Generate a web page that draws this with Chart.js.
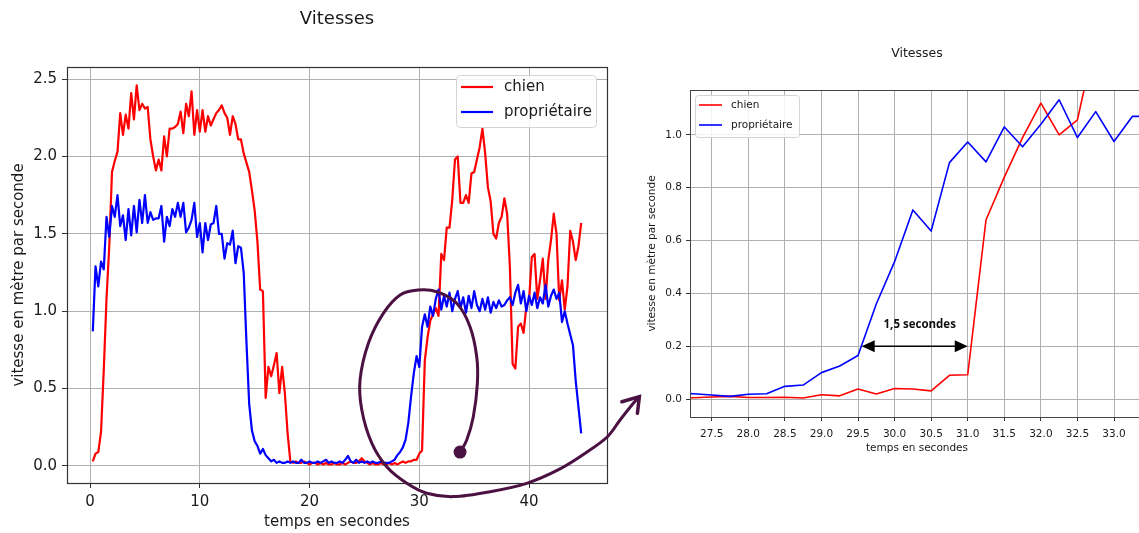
<!DOCTYPE html>
<html lang="fr">
<head>
<meta charset="utf-8">
<title>Vitesses</title>
<script src="https://cdn.jsdelivr.net/npm/chart.js@4.4.1/dist/chart.umd.min.js"></script>
<style>
  html, body { margin: 0; padding: 0; background: #fff; overflow: hidden; }
  #wrap { position: relative; width: 1139px; height: 533px; overflow: hidden; background: #fff; }
  #full  { position: absolute; left: 0;     top: 0; width: 640px; height: 533px; }
  #zoom  { position: absolute; left: 635px; top: 0; width: 520px; height: 533px; }
  #marks { position: absolute; left: 0;     top: 0; width: 1139px; height: 533px; pointer-events: none; }
</style>
</head>
<body>
<div id="wrap">
  <canvas id="full" width="640" height="533"></canvas>
  <canvas id="zoom" width="520" height="533"></canvas>
  <canvas id="marks" width="1139" height="533"></canvas>
</div>
<script>
// ---- mesures (vitesse en m/s, un échantillon toutes les 0,25 s) ----
const sampleStep = 0.25;
const fullT0 = 0.25;   // premier instant de l'enregistrement complet
const zoomT0 = 27.0;   // premier instant de l'extrait agrandi

const chien = [
  0.03, 0.08, 0.09, 0.22, 0.62, 1.08, 1.42, 1.9, 1.97, 2.03,
  2.28, 2.14, 2.27, 2.18, 2.41, 2.24, 2.46, 2.3, 2.34, 2.31,
  2.32, 2.11, 2.0, 1.91, 1.98, 1.91, 2.13, 2.0, 2.18, 2.18,
  2.19, 2.21, 2.29, 2.15, 2.34, 2.26, 2.42, 2.14, 2.3, 2.16,
  2.3, 2.16, 2.26, 2.2, 2.24, 2.28, 2.3, 2.33, 2.28, 2.25,
  2.14, 2.26, 2.21, 2.11, 2.11, 2.02, 1.96, 1.9, 1.78, 1.65,
  1.45, 1.14, 1.13, 0.44, 0.64, 0.58, 0.65, 0.73, 0.47, 0.64,
  0.47, 0.21, 0.03, 0.02, 0.03, 0.02, 0.02, 0.03, 0.02, 0.01,
  0.02, 0.02, 0.01, 0.02, 0.01, 0.02, 0.01, 0.01, 0.02, 0.01,
  0.01, 0.02, 0.01, 0.02, 0.03, 0.02, 0.02, 0.03, 0.05, 0.03,
  0.02, 0.01, 0.02, 0.01, 0.01, 0.02, 0.01, 0.01, 0.02, 0.01,
  0.02, 0.01, 0.02, 0.03, 0.02, 0.03, 0.03, 0.04, 0.04, 0.08,
  0.1, 0.68, 0.83, 0.94, 0.98, 1.02, 0.97, 1.37, 1.33, 1.54,
  1.54, 1.72, 1.98, 2.0, 1.7, 1.7, 1.75, 1.7, 1.89, 1.9,
  1.98, 2.06, 2.18, 2.02, 1.8, 1.71, 1.5, 1.47, 1.57, 1.61,
  1.73, 1.63, 1.29, 0.66, 0.63, 0.9, 0.92, 0.86, 1.03, 1.07,
  1.35, 1.37, 1.08, 1.2, 1.34, 1.08, 1.33, 1.46, 1.63, 1.5,
  1.07, 1.2, 1.01, 1.16, 1.52, 1.45, 1.33, 1.42, 1.57
];

const proprietaire = [
  0.87, 1.29, 1.16, 1.32, 1.27, 1.61, 1.48, 1.68, 1.61, 1.75,
  1.55, 1.62, 1.46, 1.66, 1.49, 1.68, 1.51, 1.72, 1.57, 1.75,
  1.57, 1.64, 1.59, 1.6, 1.6, 1.68, 1.45, 1.61, 1.55, 1.66,
  1.61, 1.7, 1.61, 1.7, 1.51, 1.54, 1.59, 1.7, 1.48, 1.57,
  1.38, 1.57, 1.46, 1.56, 1.57, 1.68, 1.5, 1.5, 1.34, 1.44,
  1.43, 1.52, 1.31, 1.42, 1.41, 1.25, 0.8, 0.4, 0.23, 0.16,
  0.13, 0.08, 0.11, 0.07, 0.05, 0.03, 0.04, 0.02, 0.03, 0.02,
  0.02, 0.03, 0.02, 0.03, 0.02, 0.02, 0.04, 0.02, 0.02, 0.03,
  0.02, 0.02, 0.03, 0.02, 0.03, 0.04, 0.02, 0.03, 0.02, 0.02,
  0.03, 0.02, 0.04, 0.065, 0.03, 0.02, 0.04, 0.02, 0.03, 0.02,
  0.03, 0.02, 0.03, 0.02, 0.02, 0.03, 0.02, 0.02, 0.02, 0.03,
  0.04, 0.07, 0.09, 0.12, 0.17, 0.28, 0.45, 0.6, 0.71, 0.64,
  0.9, 0.98, 0.9, 1.03, 0.97, 1.08, 1.14, 1.01, 1.1, 1.03,
  1.12, 1.0, 1.08, 1.13, 1.02, 1.09, 0.99, 1.1, 1.02, 1.13,
  1.04, 1.0, 1.08, 1.01, 1.09, 0.99, 1.06, 1.02, 1.07, 1.03,
  1.04, 1.07, 1.09, 1.04, 1.12, 1.17, 1.05, 1.13, 1.0, 1.1,
  1.04, 1.12, 1.02, 1.09, 1.05, 1.17, 1.03, 1.1, 1.14, 1.08,
  1.12, 0.93, 1.0, 0.92, 0.85, 0.78, 0.55, 0.38, 0.21
];

// extrait agrandi autour du départ (27 s à 33,5 s)
const zoomChien = [
  0.005, 0.005, 0.008, 0.01, 0.006, 0.006, 0.007, 0.004, 0.016, 0.012,
  0.038, 0.019, 0.04, 0.038, 0.031, 0.09, 0.092, 0.678, 0.84, 0.99,
  1.12, 1.0, 1.057, 1.37, 1.5, 1.72, 1.98
];
const zoomProprietaire = [
  0.022, 0.02, 0.015, 0.01, 0.018, 0.02, 0.048, 0.053, 0.1, 0.125,
  0.165, 0.36, 0.52, 0.716, 0.636, 0.895, 0.973, 0.898, 1.03, 0.955,
  1.04, 1.133, 0.99, 1.088, 0.975, 1.07, 1.07
];

// graduations
const fullXTicks = [0, 10, 20, 30, 40];
const fullYTicks = [0, 0.5, 1.0, 1.5, 2.0, 2.5];
const zoomXTicks = [27.5, 28.0, 28.5, 29.0, 29.5, 30.0, 30.5, 31.0, 31.5, 32.0, 32.5, 33.0];
const zoomYTicks = [0, 0.2, 0.4, 0.6, 0.8, 1.0];

const seriesNames = ['chien', 'propriétaire'];
const seriesColors = ['#ff0000', '#0000ff'];

// retard du chien sur le propriétaire
const delayFrom = 29.55;
const delayTo = 31.0;
const delayLevel = 0.2;
const delayText = '1,5 secondes';

// ---- dessin ----
const FONT = '"DejaVu Sans", "Liberation Sans", sans-serif';
const INK = '#1a1a1a';

const toPoints = (vals, t0) => vals.map((v, i) => ({ x: t0 + i * sampleStep, y: v }));

function makeAxis(ticks, fmt, min, max, o) {
  return {
    type: 'linear', min, max,
    afterBuildTicks: s => { s.ticks = ticks.map(v => ({ value: v })); },
    afterFit: s => { if (s.isHorizontal()) s.height = o.size; else s.width = o.size; },
    grid: { color: '#b0b0b0', lineWidth: 1, drawTicks: true, tickLength: o.tickLen, tickColor: '#333', tickWidth: 1 },
    border: { display: false },
    ticks: { callback: v => fmt(v), color: INK, padding: o.pad, autoSkip: false, maxRotation: 0,
             font: { family: FONT, size: o.fs } },
    title: { display: true, text: o.title, color: INK, padding: o.titlePad,
             font: { family: FONT, size: o.fs } }
  };
}

// cadre complet autour de la zone de tracé
const frame = {
  id: 'frame',
  afterDatasetsDraw(chart, args, o) {
    const { ctx, chartArea: a } = chart;
    ctx.save();
    ctx.strokeStyle = o.color; ctx.lineWidth = o.width;
    ctx.strokeRect(Math.round(a.left) + 0.5, Math.round(a.top) + 0.5,
                   Math.round(a.right - a.left), Math.round(a.bottom - a.top));
    ctx.restore();
  }
};

// légende encadrée placée dans la zone de tracé
const boxLegend = {
  id: 'boxLegend',
  afterDatasetsDraw(chart, args, o) {
    const { ctx, chartArea: a } = chart;
    const left = o.corner === 'right' ? a.right - o.inset[0] - o.w : a.left + o.inset[0];
    const top = a.top + o.inset[1];
    ctx.save();
    ctx.beginPath();
    ctx.roundRect(left + 0.5, top + 0.5, o.w, o.h, o.radius);
    ctx.fillStyle = 'rgba(255,255,255,0.85)';
    ctx.fill();
    ctx.strokeStyle = '#d4d4d4'; ctx.lineWidth = 1;
    ctx.stroke();
    ctx.font = o.fs + 'px ' + FONT;
    ctx.textBaseline = 'middle';
    chart.data.datasets.forEach((ds, i) => {
      const y = top + o.row0 + i * o.rowGap;
      ctx.strokeStyle = ds.borderColor; ctx.lineWidth = o.lw;
      ctx.beginPath();
      ctx.moveTo(left + o.swatchX, y);
      ctx.lineTo(left + o.swatchX + o.swatchLen, y);
      ctx.stroke();
      ctx.fillStyle = INK;
      ctx.fillText(ds.label, left + o.textX, y);
    });
    ctx.restore();
  }
};

// double flèche indiquant le retard
const delayNote = {
  id: 'delayNote',
  afterDatasetsDraw(chart, args, o) {
    if (!o.show) return;
    const { ctx, scales: { x, y } } = chart;
    const x1 = x.getPixelForValue(delayFrom), x2 = x.getPixelForValue(delayTo);
    const yy = y.getPixelForValue(delayLevel);
    const hl = 13, hw = 6;
    ctx.save();
    ctx.strokeStyle = '#000'; ctx.fillStyle = '#000'; ctx.lineWidth = 1.5;
    ctx.beginPath(); ctx.moveTo(x1 + hl - 2, yy); ctx.lineTo(x2 - hl + 2, yy); ctx.stroke();
    ctx.beginPath(); ctx.moveTo(x1, yy); ctx.lineTo(x1 + hl, yy - hw); ctx.lineTo(x1 + hl, yy + hw); ctx.closePath(); ctx.fill();
    ctx.beginPath(); ctx.moveTo(x2, yy); ctx.lineTo(x2 - hl, yy - hw); ctx.lineTo(x2 - hl, yy + hw); ctx.closePath(); ctx.fill();
    ctx.font = 'bold 11.5px "Open Sans", "Liberation Sans", sans-serif';
    ctx.textAlign = 'center'; ctx.textBaseline = 'middle';
    ctx.fillStyle = '#111';
    ctx.fillText(delayText, (x1 + x2) / 2 + 5, yy - 21);
    ctx.restore();
  }
};

function datasets(dogVals, ownerVals, t0, lw) {
  return [
    { label: seriesNames[0], data: toPoints(dogVals, t0), borderColor: seriesColors[0], borderWidth: lw,
      pointRadius: 0, tension: 0, fill: false, borderJoinStyle: 'round', order: 1 },
    { label: seriesNames[1], data: toPoints(ownerVals, t0), borderColor: seriesColors[1], borderWidth: lw,
      pointRadius: 0, tension: 0, fill: false, borderJoinStyle: 'round', order: 0 }
  ];
}

const common = { responsive: false, animation: false, events: [] };

const fullChart = new Chart(document.getElementById('full'), {
  type: 'line',
  data: { datasets: datasets(chien, proprietaire, fullT0, 2.2) },
  plugins: [frame, boxLegend, delayNote],
  options: {
    ...common,
    layout: { padding: { left: 0, right: 33, top: 0, bottom: 0 } },
    scales: {
      x: makeAxis(fullXTicks, v => String(v), -2.1, 47.1,
        { size: 50, tickLen: 5, pad: 5, fs: 15, title: 'temps en secondes', titlePad: { top: 0, bottom: 2 } }),
      y: makeAxis(fullYTicks, v => v.toFixed(1), -0.11, 2.578,
        { size: 67, tickLen: 5, pad: 5, fs: 15, title: 'vitesse en mètre par seconde', titlePad: { top: 10, bottom: 0 } })
    },
    plugins: {
      legend: { display: false },
      tooltip: { enabled: false },
      title: { display: true, text: 'Vitesses', color: INK, fullSize: false,
               font: { family: FONT, size: 18, weight: 'normal' }, padding: { top: 9, bottom: 36.4 } },
      frame: { color: '#333', width: 1.2 },
      boxLegend: { corner: 'right', inset: [11, 8], w: 140, h: 52, radius: 4, fs: 15, lw: 2.2,
                   swatchX: 5, swatchLen: 32, textX: 48, row0: 12, rowGap: 25 },
      delayNote: { show: false }
    }
  }
});

const zoomChart = new Chart(document.getElementById('zoom'), {
  type: 'line',
  data: { datasets: datasets(zoomChien, zoomProprietaire, zoomT0, 1.6) },
  plugins: [frame, boxLegend, delayNote],
  options: {
    ...common,
    layout: { padding: { left: 0, right: 11, top: 0, bottom: 78 } },
    scales: {
      x: makeAxis(zoomXTicks, v => v.toFixed(1), 27.203, 33.41,
        { size: 38, tickLen: 4, pad: 7, fs: 10.5, title: 'temps en secondes', titlePad: { top: 0, bottom: 0 } }),
      y: makeAxis(zoomYTicks, v => v.toFixed(1), -0.068, 1.17,
        { size: 55, tickLen: 4, pad: 4, fs: 10.5, title: 'vitesse en mètre par seconde', titlePad: { top: 10.7, bottom: 0 } })
    },
    plugins: {
      legend: { display: false },
      tooltip: { enabled: false },
      title: { display: true, text: 'Vitesses', color: INK, fullSize: false,
               font: { family: FONT, size: 12.5, weight: 'normal' }, padding: { top: 46.5, bottom: 28.5 } },
      frame: { color: '#444', width: 1 },
      boxLegend: { corner: 'left', inset: [5, 5], w: 104, h: 42, radius: 3, fs: 10.5, lw: 1.6,
                   swatchX: 4, swatchLen: 23, textX: 36, row0: 10, rowGap: 20 },
      delayNote: { show: true }
    }
  }
});

// boucle entourant le départ, prolongée par une flèche vers l'agrandissement
// (points exprimés en temps / vitesse du graphique complet)
const loopPath = [
  [33.71, 0.09], [34.32, 0.168], [34.92, 0.318], [35.29, 0.534], [35.23, 0.706],
  [34.62, 0.9], [33.41, 1.051], [31.59, 1.126], [29.91, 1.137], [28.25, 1.105],
  [26.72, 0.986], [25.36, 0.793], [24.6, 0.556], [24.76, 0.362], [25.67, 0.147],
  [27.03, -0.005], [28.86, -0.112], [30.68, -0.176], [33.1, -0.198], [36.45, -0.166],
  [39.79, -0.112], [42.82, -0.019], [45.28, 0.09], [47.14, 0.189], [48.29, 0.297],
  [49.5, 0.405], [50.05, 0.448]
];
const arrowBarbs = [[48.45, 0.415], [50.05, 0.448], [49.87, 0.34]];

(function drawLoop() {
  const ctx = document.getElementById('marks').getContext('2d');
  const xs = fullChart.scales.x, ys = fullChart.scales.y;
  const px = ([t, v]) => [xs.getPixelForValue(t), ys.getPixelForValue(v)];
  const P = loopPath.map(px);
  const color = '#4b1142';
  ctx.save();
  ctx.strokeStyle = color; ctx.lineWidth = 3; ctx.lineCap = 'round'; ctx.lineJoin = 'round';
  ctx.beginPath();
  ctx.moveTo(P[0][0], P[0][1]);
  for (let i = 0; i < P.length - 1; i++) {
    const p0 = P[i - 1] || P[i], p1 = P[i], p2 = P[i + 1], p3 = P[i + 2] || P[i + 1];
    ctx.bezierCurveTo(
      p1[0] + (p2[0] - p0[0]) / 6, p1[1] + (p2[1] - p0[1]) / 6,
      p2[0] - (p3[0] - p1[0]) / 6, p2[1] - (p3[1] - p1[1]) / 6,
      p2[0], p2[1]);
  }
  ctx.stroke();
  const B = arrowBarbs.map(px);
  ctx.lineWidth = 3.5; ctx.lineJoin = 'miter';
  ctx.beginPath();
  ctx.moveTo(B[0][0], B[0][1]); ctx.lineTo(B[1][0], B[1][1]); ctx.lineTo(B[2][0], B[2][1]);
  ctx.stroke();
  ctx.fillStyle = color;
  ctx.beginPath(); ctx.arc(P[0][0], P[0][1], 6.5, 0, Math.PI * 2); ctx.fill();
  ctx.restore();
})();
</script>
</body>
</html>
